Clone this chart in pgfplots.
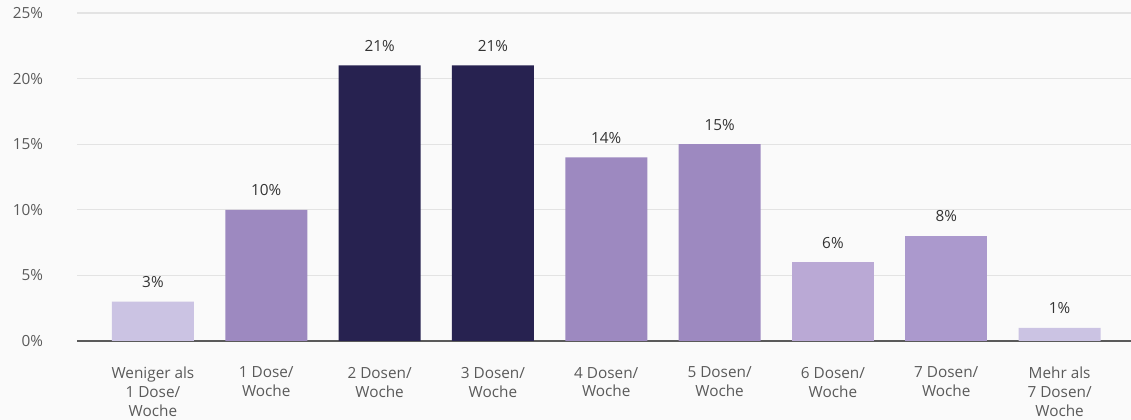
\documentclass[border=0pt]{standalone}
\usepackage{pgfplots}
\pgfplotsset{compat=1.18}
\usepackage{fontspec}
\setmainfont{Open Sans}
\definecolor{bg}{HTML}{FAFAFA}
\definecolor{cLight}{HTML}{CBC3E3}
\definecolor{cMid}{HTML}{9D89C0}
\definecolor{cDark}{HTML}{272250}
\definecolor{cSix}{HTML}{BAA9D5}
\definecolor{cSeven}{HTML}{AB99CD}
\definecolor{gridc}{HTML}{E3E3E3}
\definecolor{tickc}{HTML}{5A5A5A}
\definecolor{valc}{HTML}{333333}
\begin{document}
\begin{tikzpicture}
\path[use as bounding box] (0,0) rectangle (848.25pt,315pt);
\fill[bg] (0,0) rectangle (848.25pt,315pt);
\begin{axis}[
    at={(57.75pt,59.25pt)}, anchor=south west,
    scale only axis,
    width=790.5pt, height=246pt,
    ybar, bar width=61.5pt, bar shift=0pt,
    xmin=-0.67, xmax=8.63,
    ymin=0, ymax=25,
    axis x line*=bottom, axis y line*=left,
    x axis line style={draw=tickc, line width=0.8pt, -},
    y axis line style={draw=none},
    ymajorgrids, grid style={gridc, line width=0.8pt},
    ytick={0,5,10,15,20,25},
    yticklabels={0\%,5\%,10\%,15\%,20\%,25\%},
    major tick length=0pt,
    xtick={0,1,2,3,4,5,6,7,8},
    xticklabels={Weniger als\\1 Dose/\\Woche, 1 Dose/\\Woche, 2 Dosen/\\Woche, 3 Dosen/\\Woche, 4 Dosen/\\Woche, 5 Dosen/\\Woche, 6 Dosen/\\Woche, 7 Dosen/\\Woche, Mehr als\\7 Dosen/\\Woche},
    xticklabel style={align=center, font=\fontsize{11.5}{14.2}\selectfont, text=tickc, yshift=-16pt},
    yticklabel style={anchor=east, font=\fontsize{11.5}{13}\selectfont, text=tickc, xshift=-22pt},
    nodes near coords={\pgfmathprintnumber[assume math mode=true]{\pgfplotspointmeta}\%},
    every node near coord/.append style={font=\fontsize{11.5}{13}\selectfont, text=valc, yshift=7pt},
    clip=false,
]
\addplot[fill=cLight, draw=none] coordinates {(0,3) (8,1)};
\addplot[fill=cMid, draw=none] coordinates {(1,10) (4,14) (5,15)};
\addplot[fill=cDark, draw=none] coordinates {(2,21) (3,21)};
\addplot[fill=cSix, draw=none] coordinates {(6,6)};
\addplot[fill=cSeven, draw=none] coordinates {(7,8)};
\end{axis}
\end{tikzpicture}
\end{document}
